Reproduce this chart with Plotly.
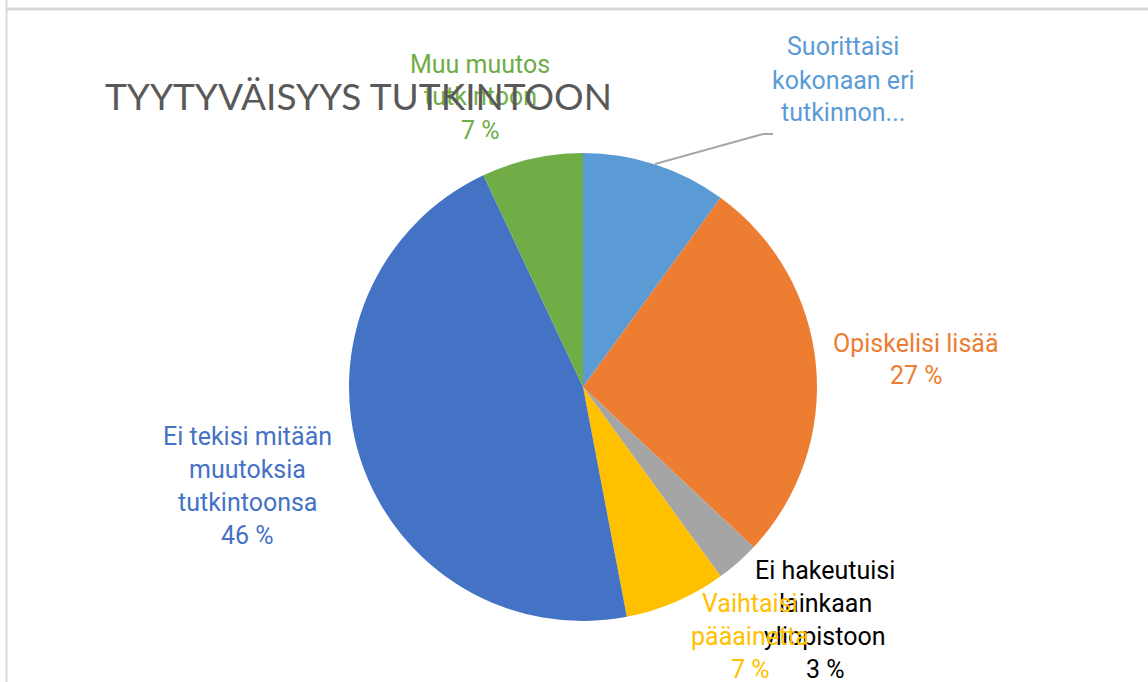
import plotly.graph_objects as go

W, H = 1148, 682

categories = [
    "Suorittaisi kokonaan eri tutkinnon...",
    "Opiskelisi lisää",
    "Ei hakeutuisi lainkaan yliopistoon",
    "Vaihtaisi pääainetta",
    "Ei tekisi mitään muutoksia tutkintoonsa",
    "Muu muutos tutkintoon",
]
values = [10, 27, 3, 7, 46, 7]
colors = ["#5B9BD5", "#ED7D31", "#A5A5A5", "#FFC000", "#4472C4", "#70AD47"]
label_colors = ["#5B9BD5", "#ED7D31", "#000000", "#FFC000", "#4472C4", "#70AD47"]
label_lines = [
    ["Suorittaisi", "kokonaan eri", "tutkinnon..."],
    ["Opiskelisi lisää"],
    ["Ei hakeutuisi", "lainkaan", "yliopistoon"],
    ["Vaihtaisi", "pääainetta"],
    ["Ei tekisi mitään", "muutoksia", "tutkintoonsa"],
    ["Muu muutos", "tutkintoon"],
]
show_pct = [False, True, True, True, True, True]
title = "TYYTYVÄISYYS TUTKINTOON"

# label anchor (center x, first-line y) in pixels
label_pos = [(843, 47), (916, 343), (825, 570), (750, 603), (247, 436), (480, 64)]
LINE_H = 33

def px(x):
    return x / W

def py(y):
    return 1 - y / H

cx, cy, r = 583, 387, 234

fig = go.Figure(go.Pie(
    labels=categories,
    values=values,
    sort=False,
    direction="clockwise",
    rotation=0,
    marker=dict(colors=colors, line=dict(width=0)),
    textinfo="none",
    hoverinfo="label+percent",
    showlegend=False,
    domain=dict(x=[px(cx - r), px(cx + r)], y=[py(cy + r), py(cy - r)]),
))

total = sum(values)
annotations = []
for i, lines in enumerate(label_lines):
    lines = list(lines)
    if show_pct[i]:
        lines.append(f"{round(values[i] / total * 100)} %")
    x0, y0 = label_pos[i]
    for k, t in enumerate(lines):
        annotations.append(dict(
            x=px(x0), y=py(y0 + k * LINE_H), xref="paper", yref="paper",
            text=t, showarrow=False, xanchor="center", yanchor="middle",
            font=dict(family="Roboto", size=25, color=label_colors[i]),
        ))

annotations.append(dict(
    x=px(103), y=py(96), xref="paper", yref="paper", text=title,
    showarrow=False, xanchor="left", yanchor="middle",
    font=dict(family="Lato", size=37, color="#595959"),
))

shapes = [
    # leader line for first label
    dict(type="path", xref="paper", yref="paper",
         path=f"M {px(655)} {py(164)} L {px(763)} {py(134)} L {px(773)} {py(134)}",
         line=dict(color="#A6A6A6", width=2)),
    # frame lines
    dict(type="line", xref="paper", yref="paper", x0=px(6.5), x1=px(6.5), y0=0, y1=1,
         line=dict(color="#D9D9D9", width=2)),
    dict(type="line", xref="paper", yref="paper", x0=px(6), x1=1, y0=py(9), y1=py(9),
         line=dict(color="#D9D9D9", width=3)),
]

fig.update_layout(
    width=W, height=H,
    margin=dict(l=0, r=0, t=0, b=0),
    paper_bgcolor="white",
    plot_bgcolor="white",
    annotations=annotations,
    shapes=shapes,
)

fig.write_html("out.html", config={"displayModeBar": False},
               post_script="document.body.style.margin='0';")
